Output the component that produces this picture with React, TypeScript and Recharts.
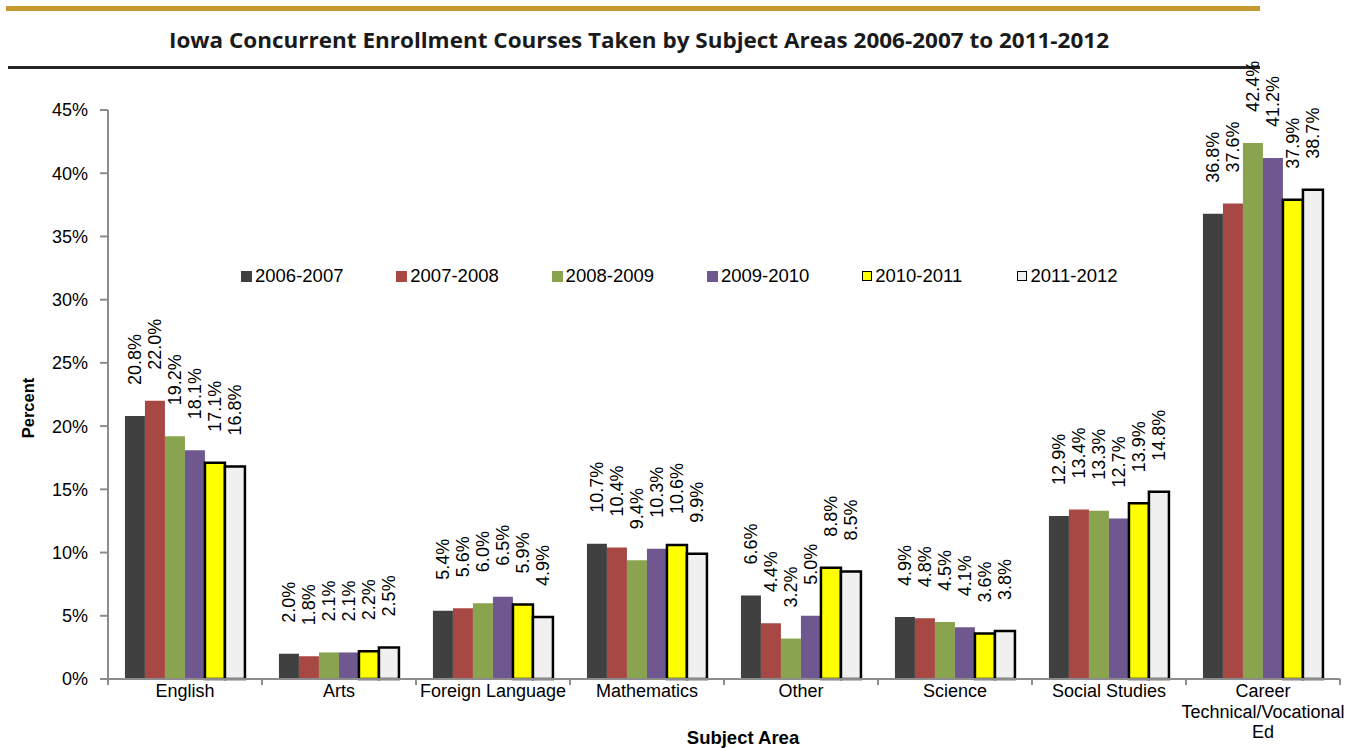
import { BarChart, Bar, XAxis, YAxis, LabelList } from 'recharts';

const categories = [
  'English',
  'Arts',
  'Foreign Language',
  'Mathematics',
  'Other',
  'Science',
  'Social Studies',
  'Career\nTechnical/Vocational\nEd',
];

const y0607 = [20.8, 2.0, 5.4, 10.7, 6.6, 4.9, 12.9, 36.8];
const y0708 = [22.0, 1.8, 5.6, 10.4, 4.4, 4.8, 13.4, 37.6];
const y0809 = [19.2, 2.1, 6.0, 9.4, 3.2, 4.5, 13.3, 42.4];
const y0910 = [18.1, 2.1, 6.5, 10.3, 5.0, 4.1, 12.7, 41.2];
const y1011 = [17.1, 2.2, 5.9, 10.6, 8.8, 3.6, 13.9, 37.9];
const y1112 = [16.8, 2.5, 4.9, 9.9, 8.5, 3.8, 14.8, 38.7];

const yTicks = [0, 5, 10, 15, 20, 25, 30, 35, 40, 45];

const series = [
  { key: 's0607', name: '2006-2007', values: y0607, fill: '#404040', stroke: 'none' },
  { key: 's0708', name: '2007-2008', values: y0708, fill: '#a84845', stroke: 'none' },
  { key: 's0809', name: '2008-2009', values: y0809, fill: '#89a34f', stroke: 'none' },
  { key: 's0910', name: '2009-2010', values: y0910, fill: '#6f588f', stroke: 'none' },
  { key: 's1011', name: '2010-2011', values: y1011, fill: '#ffff00', stroke: '#000' },
  { key: 's1112', name: '2011-2012', values: y1112, fill: '#f0f0f0', stroke: '#000' },
];

const data = categories.map((name, i) => {
  const row: Record<string, string | number> = { name };
  series.forEach((s) => {
    row[s.key] = s.values[i];
  });
  return row;
});

const FONT = '"Liberation Sans", Arial, sans-serif';
const AXIS = '#8c8c8c';

function ValueLabel(props: any) {
  const { x, y, width, value } = props;
  const cx = x + width / 2;
  const ty = y - 31;
  return (
    <text
      x={cx}
      y={ty}
      transform={`rotate(-90, ${cx}, ${ty})`}
      textAnchor="start"
      dominantBaseline="central"
      fontSize={18}
      fontFamily={FONT}
      fill="#000"
    >
      {Number(value).toFixed(1)}%
    </text>
  );
}

function CategoryTick(props: any) {
  const { x, y, payload, index } = props;
  const half = payload.offset ?? 77;
  const lines = String(payload.value).split('\n');
  return (
    <g transform={`translate(${x},${y})`}>
      <line x1={-half} y1={0} x2={-half} y2={6} stroke={AXIS} strokeWidth={2} />
      {index === categories.length - 1 && (
        <line x1={half} y1={0} x2={half} y2={6} stroke={AXIS} strokeWidth={2} />
      )}
      <text textAnchor="middle" fontSize={18} fontFamily={FONT} fill="#000">
        {lines.map((l, i) => (
          <tspan key={i} x={0} dy={i === 0 ? 18 : 20.5}>
            {l}
          </tspan>
        ))}
      </text>
    </g>
  );
}

export default function App() {
  return (
    <div style={{ position: 'absolute', left: 0, top: 0, width: 1358, height: 748, background: '#fff', fontFamily: FONT }}>
      <svg width={1358} height={80} style={{ position: 'absolute', left: 0, top: 0 }}>
        <rect x={6} y={6} width={1254} height={5} fill="#c4992f" />
        <text
          x={639}
          y={48}
          textAnchor="middle"
          fontSize={22}
          fontWeight="bold"
          fontFamily='"Open Sans", sans-serif'
          textLength={940}
          lengthAdjust="spacingAndGlyphs"
          fill="#1a1a1a"
        >
          Iowa Concurrent Enrollment Courses Taken by Subject Areas 2006-2007 to 2011-2012
        </text>
        <rect x={8} y={66} width={1252} height={3} fill="#262626" />
      </svg>

      <BarChart
        width={1358}
        height={748}
        data={data}
        margin={{ top: 110, right: 18, left: 0, bottom: 0 }}
        barCategoryGap="11%"
        barGap={0}
      >
        <XAxis
          dataKey="name"
          height={69}
          interval={0}
          tickLine={false}
          tickSize={0}
          tickMargin={0}
          axisLine={{ stroke: AXIS, strokeWidth: 2 }}
          tick={<CategoryTick />}
        />
        <YAxis
          width={108}
          domain={[0, 45]}
          ticks={yTicks}
          interval={0}
          tickFormatter={(v: number) => `${v}%`}
          tickSize={8}
          tickMargin={12}
          axisLine={{ stroke: AXIS, strokeWidth: 2 }}
          tickLine={{ stroke: AXIS, strokeWidth: 2 }}
          tick={{ fill: '#000', fontSize: 18, fontFamily: FONT }}
        />
        {series.map((s) => (
          <Bar
            key={s.key}
            dataKey={s.key}
            name={s.name}
            fill={s.fill}
            stroke={s.stroke}
            strokeWidth={s.stroke === 'none' ? 0 : 2.5}
            isAnimationActive={false}
          >
            <LabelList dataKey={s.key} content={<ValueLabel />} />
          </Bar>
        ))}
      </BarChart>

      <div
        style={{
          position: 'absolute',
          left: 28,
          top: 408,
          transform: 'translate(-50%, -50%) rotate(-90deg)',
          fontSize: 16.5,
          fontWeight: 'bold',
          whiteSpace: 'nowrap',
        }}
      >
        Percent
      </div>
      <div
        style={{
          position: 'absolute',
          left: 743,
          top: 738,
          transform: 'translate(-50%, -50%)',
          fontSize: 18.5,
          fontWeight: 'bold',
          whiteSpace: 'nowrap',
        }}
      >
        Subject Area
      </div>

      <div style={{ position: 'absolute', left: 241, top: 265, display: 'flex', fontSize: 18.5 }}>
        {series.map((s) => (
          <div key={s.key} style={{ width: 155.3, display: 'flex', alignItems: 'center' }}>
            <span
              style={{
                display: 'inline-block',
                width: s.stroke === 'none' ? 11 : 8,
                height: s.stroke === 'none' ? 11 : 8,
                background: s.fill,
                border: s.stroke === 'none' ? 'none' : '1.5px solid #000',
                marginRight: 3,
              }}
            />
            <span>{s.name}</span>
          </div>
        ))}
      </div>
    </div>
  );
}
